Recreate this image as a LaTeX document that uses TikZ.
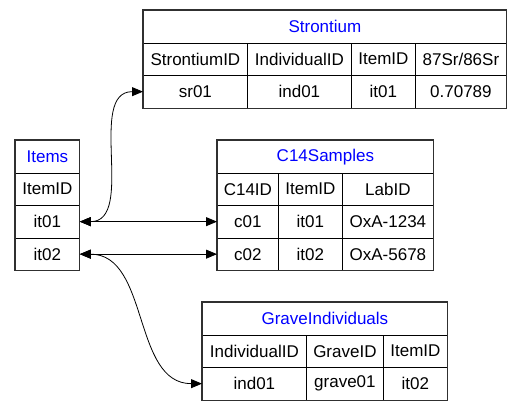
\documentclass[tikz,border=0pt]{standalone}
\usepackage{fontspec}
\setmainfont{Liberation Sans}
\usepackage{xcolor}
\usetikzlibrary{positioning,arrows.meta,fit}
\definecolor{titleCol}{HTML}{0000FF}
\definecolor{frameCol}{HTML}{303030}

\begin{document}
\begin{tikzpicture}[
  x=1pt, y=-1pt,
  font=\fontsize{17}{19}\selectfont,
  cell/.style={draw, line width=0.8pt, anchor=north west, inner sep=0pt,
               minimum height=32.5pt},
  title/.style={cell, text=titleCol},
  frame/.style={draw=frameCol, line width=1.3pt, inner sep=0pt},
  link/.style={{Triangle[length=11pt,width=9pt]}-{Triangle[length=11pt,width=9pt]},
               line width=0.8pt},
]
\useasboundingbox (0,0) rectangle (521,410);

% ---- Strontium ----
\node[title, minimum width=363pt] (stitle) at (143,10) {Strontium};
\node[cell, minimum width=104pt] (shead1) at (143,42.5) {StrontiumID};
\node[cell, minimum width=104pt] (shead2) at (247,42.5) {IndividualID};
\node[cell, minimum width=64pt]  (shead3) at (351,42.5) {ItemID};
\node[cell, minimum width=91pt]  (shead4) at (415,42.5) {87Sr/86Sr};
\node[cell, minimum width=104pt] (sr01)   at (143,75) {sr01};
\node[cell, minimum width=104pt] (sind01) at (247,75) {ind01};
\node[cell, minimum width=64pt]  (sit01)  at (351,75) {it01};
\node[cell, minimum width=91pt]  (sratio) at (415,75) {0.70789};
\node[frame, fit=(stitle)(sratio)] {};

% ---- Items ----
\node[title, minimum width=64pt] (ititle) at (15,140) {Items};
\node[cell, minimum width=64pt]  (ihead)  at (15,172.5) {ItemID};
\node[cell, minimum width=64pt]  (it01)   at (15,205) {it01};
\node[cell, minimum width=64pt]  (it02)   at (15,237.5) {it02};
\node[frame, fit=(ititle)(it02)] {};

% ---- C14Samples ----
\node[title, minimum width=216pt] (ctitle) at (217,140) {C14Samples};
\node[cell, minimum width=61pt] (chead1) at (217,172.5) {C14ID};
\node[cell, minimum width=64pt] (chead2) at (278,172.5) {ItemID};
\node[cell, minimum width=91pt] (chead3) at (342,172.5) {LabID};
\node[cell, minimum width=61pt] (c01)    at (217,205) {c01};
\node[cell, minimum width=64pt] (cit01)  at (278,205) {it01};
\node[cell, minimum width=91pt] (clab1)  at (342,205) {OxA-1234};
\node[cell, minimum width=61pt] (c02)    at (217,237.5) {c02};
\node[cell, minimum width=64pt] (cit02)  at (278,237.5) {it02};
\node[cell, minimum width=91pt] (clab2)  at (342,237.5) {OxA-5678};
\node[frame, fit=(ctitle)(clab2)] {};

% ---- GraveIndividuals ----
\node[title, minimum width=245pt] (gtitle) at (202,302) {GraveIndividuals};
\node[cell, minimum width=104pt] (ghead1) at (202,334.5) {IndividualID};
\node[cell, minimum width=77pt]  (ghead2) at (306,334.5) {GraveID};
\node[cell, minimum width=64pt]  (ghead3) at (383,334.5) {ItemID};
\node[cell, minimum width=104pt] (gind01) at (202,367) {ind01};
\node[cell, minimum width=77pt]  (ggrave) at (306,367) {grave01};
\node[cell, minimum width=64pt]  (git02)  at (383,367) {it02};
\node[frame, fit=(gtitle)(git02)] {};

% ---- Links ----
\draw[link] (it01.east) to[out=0,in=180] (sr01.west);
\draw[link] (it01.east) -- (c01.west);
\draw[link] (it02.east) -- (c02.west);
\draw[link] (it02.east) to[out=0,in=180] (gind01.west);

\end{tikzpicture}
\end{document}
